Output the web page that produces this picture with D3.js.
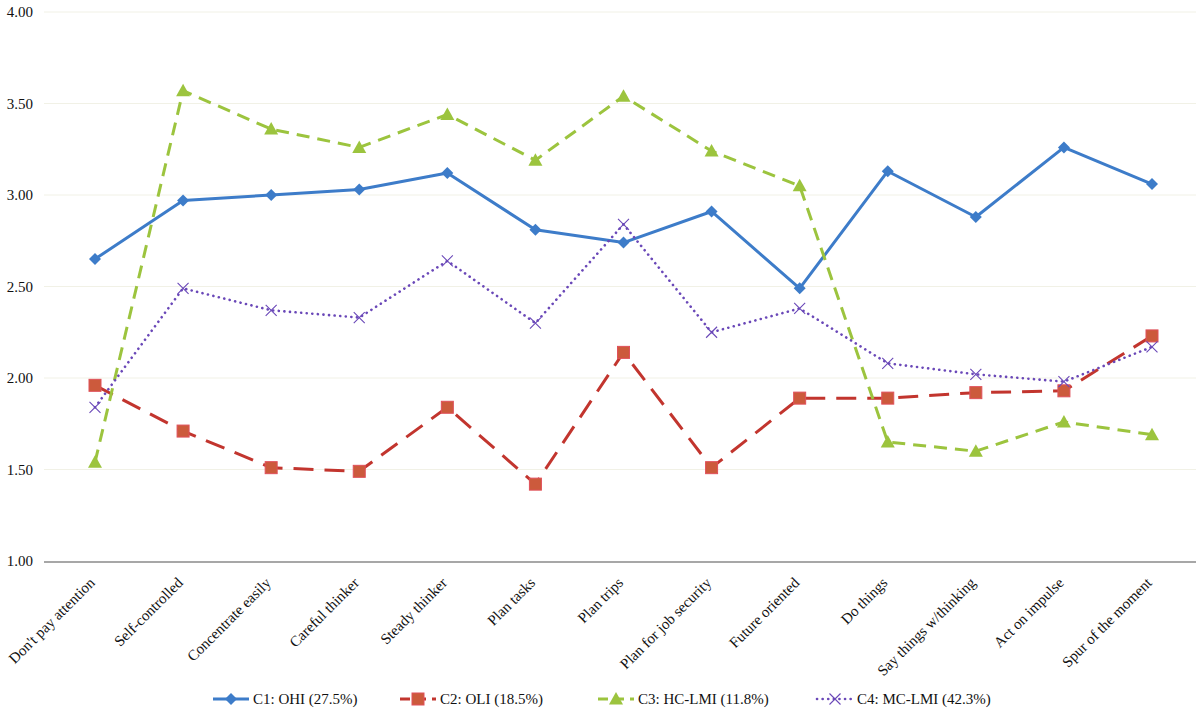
<!DOCTYPE html>
<html>
<head>
<meta charset="utf-8">
<script src="https://cdn.jsdelivr.net/npm/d3@7"></script>
<style>
  body { margin: 0; background: #fff; }
</style>
</head>
<body>
<svg id="chart" width="1199" height="713"></svg>
<script>
const categories = ["Don't pay attention", "Self-controlled", "Concentrate easily", "Careful thinker",
  "Steady thinker", "Plan tasks", "Plan trips", "Plan for job security", "Future oriented",
  "Do things", "Say things w/thinking", "Act on impulse", "Spur of the moment"];

const c1 = [2.65, 2.97, 3.00, 3.03, 3.12, 2.81, 2.74, 2.91, 2.49, 3.13, 2.88, 3.26, 3.06];
const c2 = [1.96, 1.71, 1.51, 1.49, 1.84, 1.42, 2.14, 1.51, 1.89, 1.89, 1.92, 1.93, 2.23];
const c3 = [1.54, 3.57, 3.36, 3.26, 3.44, 3.19, 3.54, 3.24, 3.05, 1.65, 1.60, 1.76, 1.69];
const c4 = [1.84, 2.49, 2.37, 2.33, 2.64, 2.30, 2.84, 2.25, 2.38, 2.08, 2.02, 1.98, 2.17];

const seriesNames = ["C1: OHI (27.5%)", "C2: OLI (18.5%)", "C3: HC-LMI (11.8%)", "C4: MC-LMI (42.3%)"];
const yTicks = [1.00, 1.50, 2.00, 2.50, 3.00, 3.50, 4.00];

const serif = '"Times New Roman", Times, "Liberation Serif", Tinos, "DejaVu Serif", "Noto Serif", FreeSerif, serif';

const styles = [
  { color: "#3D7CC9", width: 3, dash: null, marker: "diamond" },
  { color: "#C2352E", width: 3, dash: "20,11", marker: "square" },
  { color: "#9CC43E", width: 3, dash: "13,8", marker: "triangle" },
  { color: "#6A48B8", width: 2.6, dash: "0.1,5.5", marker: "x" }
];

const svg = d3.select("#chart");

const x = d3.scalePoint().domain(categories).range([95, 1152]);
const y = d3.scaleLinear().domain([1, 4]).range([561, 12]);

// faint horizontal gridlines
svg.append("g")
  .selectAll("line")
  .data(yTicks.slice(1))
  .enter()
  .append("line")
  .attr("x1", 44).attr("x2", 1196)
  .attr("y1", d => y(d)).attr("y2", d => y(d))
  .attr("stroke", "#f1f1e6")
  .attr("stroke-width", 1);

// y axis labels
svg.append("g")
  .selectAll("text")
  .data(yTicks)
  .enter()
  .append("text")
  .attr("x", 33)
  .attr("y", d => y(d))
  .attr("dy", "0.35em")
  .attr("text-anchor", "end")
  .attr("font-family", serif)
  .attr("font-size", 15)
  .attr("fill", "#111")
  .text(d => d.toFixed(2));

// x axis line
svg.append("line")
  .attr("x1", 44).attr("x2", 1196)
  .attr("y1", y(1) + 1).attr("y2", y(1) + 1)
  .attr("stroke", "#8a8a8a")
  .attr("stroke-width", 1.3);

// x axis labels (rotated)
svg.append("g")
  .selectAll("text")
  .data(categories)
  .enter()
  .append("text")
  .attr("transform", d => `translate(${x(d) - 3},${y(1) + 19}) rotate(-45)`)
  .attr("text-anchor", "end")
  .attr("dy", "0.35em")
  .attr("font-family", serif)
  .attr("font-size", 15)
  .attr("fill", "#111")
  .text(d => d);

const allSeries = [c1, c2, c3, c4];

const line = d3.line()
  .x((d, i) => x(categories[i]))
  .y(d => y(d));

function drawMarker(g, type, cx, cy, color) {
  if (type === "diamond") {
    g.append("path")
      .attr("d", `M${cx},${cy - 6}L${cx + 6},${cy}L${cx},${cy + 6}L${cx - 6},${cy}Z`)
      .attr("fill", color);
  } else if (type === "square") {
    g.append("rect")
      .attr("x", cx - 6).attr("y", cy - 6)
      .attr("width", 12).attr("height", 12)
      .attr("fill", "#CC5A3C")
      .attr("stroke", "#E0505A")
      .attr("stroke-width", 1);
  } else if (type === "triangle") {
    g.append("path")
      .attr("d", `M${cx},${cy - 7}L${cx + 7},${cy + 5.5}L${cx - 7},${cy + 5.5}Z`)
      .attr("fill", color);
  } else if (type === "x") {
    g.append("path")
      .attr("d", `M${cx - 5.5},${cy - 5.5}L${cx + 5.5},${cy + 5.5}M${cx + 5.5},${cy - 5.5}L${cx - 5.5},${cy + 5.5}`)
      .attr("stroke", color)
      .attr("stroke-width", 1.1)
      .attr("fill", "none");
  }
}

allSeries.forEach((vals, si) => {
  const st = styles[si];
  const g = svg.append("g");
  g.append("path")
    .datum(vals)
    .attr("d", line)
    .attr("fill", "none")
    .attr("stroke", st.color)
    .attr("stroke-width", st.width)
    .attr("stroke-linecap", st.marker === "x" ? "round" : "butt")
    .attr("stroke-linejoin", "round")
    .attr("stroke-dasharray", st.dash);
  vals.forEach((v, i) => drawMarker(g, st.marker, x(categories[i]), y(v), st.color));
});

// legend
const legendX = [213, 400, 598, 817];
const legend = svg.append("g");
seriesNames.forEach((name, si) => {
  const st = styles[si];
  const lx = legendX[si];
  const ly = 699;
  const g = legend.append("g");
  g.append("line")
    .attr("x1", lx).attr("x2", lx + 36)
    .attr("y1", ly).attr("y2", ly)
    .attr("stroke", st.color)
    .attr("stroke-width", st.width)
    .attr("stroke-linecap", st.marker === "x" ? "round" : "butt")
    .attr("stroke-dasharray", st.dash ? (si === 3 ? "0.1,5.5" : "10,6") : null);
  drawMarker(g, st.marker, lx + 18, ly, st.color);
  g.append("text")
    .attr("x", lx + 40)
    .attr("y", ly)
    .attr("dy", "0.35em")
    .attr("font-family", serif)
    .attr("font-size", 15)
    .attr("fill", "#111")
    .text(name);
});
</script>
</body>
</html>
